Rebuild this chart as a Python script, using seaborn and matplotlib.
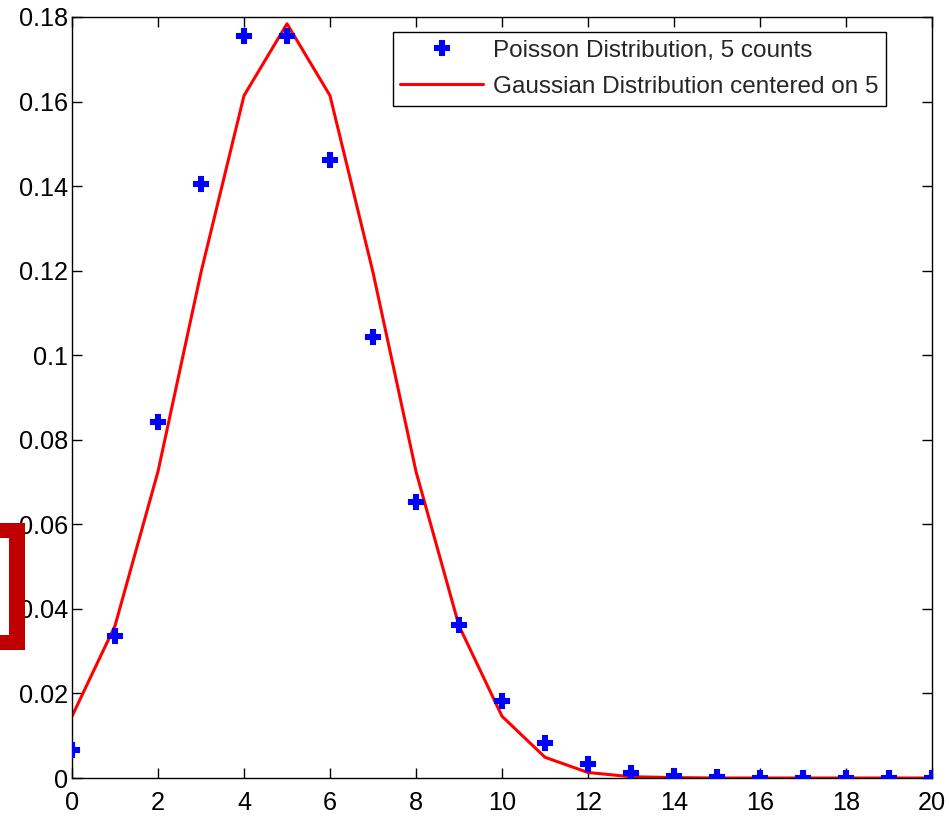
import matplotlib
matplotlib.use("Agg")
import matplotlib.pyplot as plt
import seaborn as sns
import pandas as pd
from matplotlib.patches import Rectangle

# Data
counts = list(range(0, 21))
poisson_vals = [0.0067, 0.0337, 0.0842, 0.1404, 0.1755, 0.1755, 0.1462, 0.1044,
                0.0653, 0.0363, 0.0181, 0.0082, 0.0034, 0.0013, 0.0005, 0.0002,
                0.0000, 0.0000, 0.0000, 0.0000, 0.0000]
gauss_vals = [0.0146, 0.0360, 0.0725, 0.1196, 0.1614, 0.1784, 0.1614, 0.1196,
              0.0725, 0.0360, 0.0146, 0.0049, 0.0013, 0.0003, 0.0001, 0.0000,
              0.0000, 0.0000, 0.0000, 0.0000, 0.0000]
x_ticks = list(range(0, 21, 2))
y_ticks = [0, 0.02, 0.04, 0.06, 0.08, 0.1, 0.12, 0.14, 0.16, 0.18]
y_tick_labels = ["0", "0.02", "0.04", "0.06", "0.08", "0.1", "0.12", "0.14", "0.16", "0.18"]
label_poisson = "Poisson Distribution, 5 counts"
label_gauss = "Gaussian Distribution centered on 5"

sns.set_theme(style="ticks")
plt.rcParams['font.family'] = ['Liberation Sans', 'DejaVu Sans']

df = pd.DataFrame({"k": counts, "poisson": poisson_vals, "gauss": gauss_vals})

fig = plt.figure(figsize=(9.49, 8.17), dpi=100)
ax = fig.add_axes([72/949, 1-778/817, (932-72)/949, (778-17)/817])

sns.lineplot(data=df, x="k", y="poisson", ax=ax, linestyle="none", marker="P",
             markersize=10, color="blue", markeredgecolor="blue", markeredgewidth=1.5,
             label=label_poisson, zorder=3)
sns.lineplot(data=df, x="k", y="gauss", ax=ax, color="red", linewidth=2.2,
             label=label_gauss, zorder=2)

ax.set_xlim(0, 20)
ax.set_ylim(0, 0.18)
ax.set_xticks(x_ticks)
ax.set_xticklabels([str(t) for t in x_ticks])
ax.set_yticks(y_ticks)
ax.set_yticklabels(y_tick_labels)
ax.set_xlabel("")
ax.set_ylabel("")
ax.tick_params(direction="in", length=7, width=1, top=True, right=True,
               labelsize=18.2, colors="black")
ax.tick_params(axis="x", pad=9)
ax.tick_params(axis="y", pad=3)
for s in ax.spines.values():
    s.set_visible(True)
    s.set_color("black")
    s.set_linewidth(1)

h, l = ax.get_legend_handles_labels()
leg = ax.legend(h, l, loc="upper right", bbox_to_anchor=(886/949, 1-32/817),
                bbox_transform=fig.transFigure, fontsize=17.5, frameon=True,
                fancybox=False, edgecolor="black", borderpad=0.32,
                handlelength=3.4, handletextpad=0.4, labelspacing=0.58,
                borderaxespad=0)
leg.get_frame().set_linewidth(1)
leg.get_frame().set_alpha(1)

# Red bracket overlay on the left edge
fig.patches.append(Rectangle((0, 1-650/817), 25/949, 127/817, transform=fig.transFigure,
                             facecolor="#C00000", edgecolor="none", zorder=10))
fig.patches.append(Rectangle((0, 1-635/817), 9/949, 97/817, transform=fig.transFigure,
                             facecolor="white", edgecolor="none", zorder=11))

fig.savefig("out.png", dpi=100)
